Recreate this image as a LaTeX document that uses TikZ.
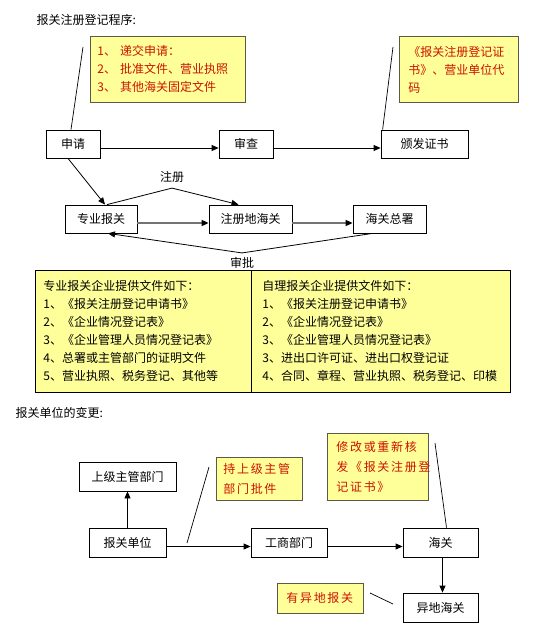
\documentclass[tikz,border=0pt]{standalone}
\usepackage{fontspec}
\setmainfont{Noto Sans CJK SC}
\usetikzlibrary{arrows.meta,positioning}
\definecolor{notefill}{RGB}{255,255,153}
\definecolor{notered}{RGB}{204,17,0}
\definecolor{noteline}{RGB}{90,90,70}
\tikzset{
    box/.style={draw, line width=0.8bp, minimum height=28bp, inner sep=0pt},
    note/.style={draw=noteline, line width=0.8bp, fill=notefill, text=notered, align=left, anchor=north west, inner ysep=0pt},
    docs/.style={draw, line width=0.8bp, fill=notefill, align=left, anchor=north west, inner ysep=0pt, minimum height=122bp},
    spaced/.style={font=\fontsize{12bp}{20bp}\selectfont\addfontfeature{LetterSpace=14}},
    edge/.style={draw, line width=0.8bp, -{Triangle[length=7bp,width=6bp]}},
    bigedge/.style={draw, line width=1.6bp, color=black!55, -{Triangle[length=7bp,width=6bp,fill=black,color=black]}},
    callout/.style={draw, line width=0.7bp}
}

\begin{document}
\begin{tikzpicture}[x=1bp, y=-1bp, font=\fontsize{12bp}{18bp}\selectfont]
    \useasboundingbox (0,0) rectangle (547,631);

    % Nodes
    \node[anchor=west] (title1) at (33,20) {报关注册登记程序:};
    \node[note, text width=141bp, inner xsep=7bp, minimum height=66bp] (n1) at (90,36)
        {1、 递交申请：\\2、 批准文件、营业执照\\3、 其他海关固定文件};
    \node[note, text width=101bp, inner xsep=9bp, minimum height=66bp] (n2) at (399,36)
        {《报关注册登记证\\书》、营业单位代\\码};

    \node[box, minimum width=54bp] (apply) at (73,144) {申请};
    \node[box, minimum width=54bp] (check) at (246,144) {审查};
    \node[box, minimum width=87bp] (issue) at (424.5,144) {颁发证书};

    \node[box, minimum width=72bp] (zybg) at (101,219) {专业报关};
    \node[box, minimum width=83bp] (zcdhg) at (250.5,219) {注册地海关};
    \node[box, minimum width=73bp] (hgzs) at (389.5,219) {海关总署};
    \node (zc) at (172,177) {注册};
    \node (sp) at (242,263) {审批};

    \node[docs, text width=200bp, inner xsep=8bp] (left) at (35,270)
        {专业报关企业提供文件如下：\\1、《报关注册登记申请书》\\2、《企业情况登记表》\\3、《企业管理人员情况登记表》\\4、总署或主管部门的证明文件\\5、营业执照、税务登记、其他等};
    \node[docs, text width=237bp, inner xsep=11bp] (right) at (251,270)
        {自理报关企业提供文件如下：\\1、《报关注册登记申请书》\\2、《企业情况登记表》\\3、《企业管理人员情况登记表》\\3、进出口许可证、进出口权登记证\\4、合同、章程、营业执照、税务登记、印模};

    \node[anchor=west] (title2) at (12,413) {报关单位的变更:};
    \node[box, minimum width=97bp, minimum height=29bp] (sjzg) at (127.5,476.5) {上级主管部门};
    \node[box, minimum width=77bp, minimum height=29bp] (bgdw) at (127.5,542.5) {报关单位};
    \node[box, minimum width=76bp, minimum height=29bp] (gsbm) at (289,542.5) {工商部门};
    \node[box, minimum width=75bp, minimum height=29bp] (hg) at (440.5,542.5) {海关};
    \node[box, minimum width=75bp, minimum height=29bp] (ydhg) at (440.5,607.5) {异地海关};
    \node[note, spaced, text width=72bp, inner xsep=7bp, minimum height=43bp] (n3) at (216,457)
        {持上级主管\\部门批件};
    \node[note, spaced, text width=83bp, inner xsep=9bp, minimum height=67bp] (n4) at (327,433)
        {修改或重新核\\发《报关注册登\\记证书》};
    \node[note, spaced, text width=68bp, inner xsep=9bp, minimum height=30bp] (n5) at (277,583)
        {有异地报关};

    \coordinate (c1) at (83,47);
    \coordinate (c2) at (393,47);
    \coordinate (c3) at (187,543);
    \coordinate (c4) at (209,467);
    \coordinate (c5) at (435,443);
    \coordinate (c6) at (370,593);
    \coordinate (c7) at (393,604);

    % edges
    \draw[callout] (c1) -- ([xshift=-2bp]apply.north);
    \draw[callout] (c2) -- ([xshift=2bp]issue.north west);
    \draw[edge] ([yshift=-4bp]apply.east) -- ([yshift=-4bp]check.west);
    \draw[edge] ([yshift=-4bp]check.east) -- ([yshift=-4bp]issue.west);
    \draw[edge] ([xshift=-5bp]apply.south) -- ([xshift=4bp]zybg.north);

    \draw[bigedge] ([yshift=-4bp]zybg.east) -- ([yshift=-4bp]zcdhg.west);
    \draw[bigedge] ([yshift=-4bp]zcdhg.east) -- ([yshift=-4bp]hgzs.west);
    \draw[edge] ([xshift=6bp]zybg.north) -- ([yshift=-2bp]zc.south) -- ([xshift=-12bp]zcdhg.north);
    \draw[edge] ([xshift=-17bp]hgzs.south) -- ([yshift=1bp]sp.north) -- ([xshift=7bp]zybg.south);

    \draw[edge] (bgdw) -- (sjzg);
    \draw[edge] ([yshift=-4bp]bgdw.east) -- ([yshift=-4bp]gsbm.west);
    \draw[edge] ([yshift=-4bp]gsbm.east) -- ([yshift=-4bp]hg.west);
    \draw[edge] ([xshift=2bp]hg.south) -- ([xshift=2bp]ydhg.north);
    \draw[callout] (c3) -- (c4);
    \draw[callout] (c5) -- ([xshift=6bp]hg.north);
    \draw[callout] (c6) -- (c7);
\end{tikzpicture}
\end{document}
